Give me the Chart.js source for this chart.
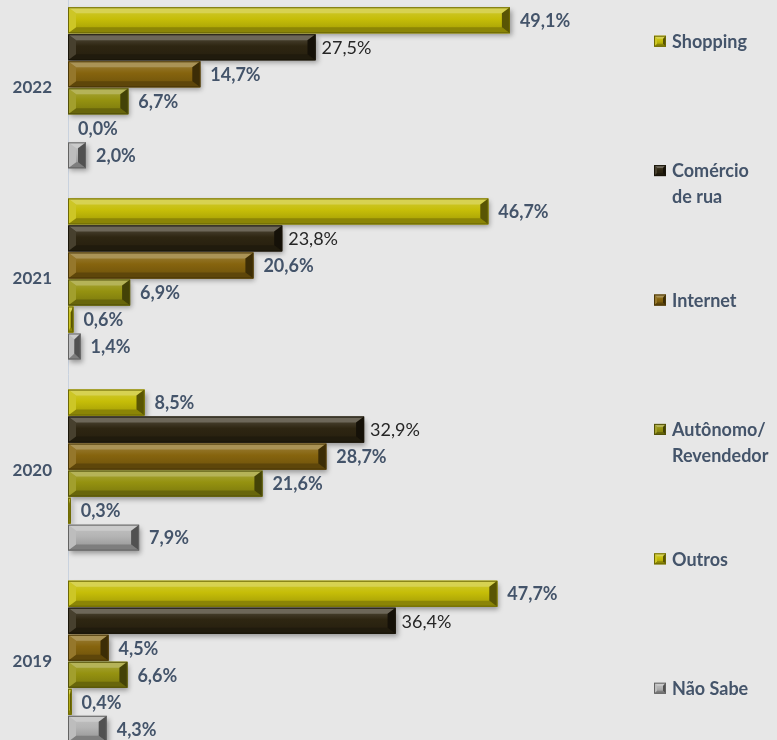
<!DOCTYPE html>
<html>
<head>
<meta charset="utf-8">
<script src="https://cdn.jsdelivr.net/npm/chart.js@4/dist/chart.umd.min.js"></script>
<style>
  html, body { margin: 0; padding: 0; background: #e7e7e7; overflow: hidden; }
  #wrap { position: absolute; left: 0; top: -34px; width: 777px; height: 817px; }
</style>
</head>
<body>
<div id="wrap"><canvas id="chart-local-compra"></canvas></div>
<script>
const years = ['2022', '2021', '2020', '2019'];
const series = ['Shopping', 'Comércio de rua', 'Internet', 'Autônomo/Revendedor', 'Outros', 'Não Sabe'];
const legendLines = [['Shopping'], ['Comércio', 'de rua'], ['Internet'], ['Autônomo/', 'Revendedor'], ['Outros'], ['Não Sabe']];
const shopping  = [49.1, 46.7, 8.5, 47.7];
const comercio  = [27.5, 23.8, 32.9, 36.4];
const internet  = [14.7, 20.6, 28.7, 4.5];
const autonomo  = [6.7, 6.9, 21.6, 6.6];
const outros    = [0.0, 0.6, 0.3, 0.4];
const naoSabe   = [2.0, 1.4, 7.9, 4.3];
const values = [shopping, comercio, internet, autonomo, outros, naoSabe];
const baseColors = ['#c6be08', '#2e2612', '#86640e', '#959210', '#c6be08', '#b4b4b4'];

const FONT = 'Lato, "Open Sans", sans-serif';
const LABEL_COLOR = '#44546a';

function shade(hex, f) {
  const n = parseInt(hex.slice(1), 16);
  let r = (n >> 16) & 255, g = (n >> 8) & 255, b = n & 255;
  const t = f < 0 ? 0 : 255, p = Math.abs(f);
  r = Math.round(r + (t - r) * p); g = Math.round(g + (t - g) * p); b = Math.round(b + (t - b) * p);
  return `rgb(${r},${g},${b})`;
}

function poly(ctx, pts, fill) {
  ctx.beginPath();
  ctx.moveTo(pts[0][0], pts[0][1]);
  for (let i = 1; i < pts.length; i++) ctx.lineTo(pts[i][0], pts[i][1]);
  ctx.closePath();
  ctx.fillStyle = fill;
  ctx.fill();
}

// beveled rectangle, the look of the bars and legend keys
function bevel(ctx, x0, y0, x1, y1, base, bx, by) {
  const w = x1 - x0, h = y1 - y0;
  if (w <= 0 || h <= 0) return;
  bx = Math.min(bx, w / 2); by = Math.min(by, h / 2);
  const g = ctx.createLinearGradient(0, y0, 0, y1);
  g.addColorStop(0, shade(base, 0.2));
  g.addColorStop(0.45, base);
  g.addColorStop(1, shade(base, -0.2));
  ctx.fillStyle = g;
  ctx.fillRect(x0, y0, w, h);
  poly(ctx, [[x0, y0], [x1, y0], [x1 - bx, y0 + by], [x0 + bx, y0 + by]], shade(base, 0.3));
  poly(ctx, [[x0, y1], [x1, y1], [x1 - bx, y1 - by], [x0 + bx, y1 - by]], shade(base, -0.3));
  poly(ctx, [[x0, y0], [x0 + bx, y0 + by], [x0 + bx, y1 - by], [x0, y1]], shade(base, 0.12));
  poly(ctx, [[x1, y0], [x1 - bx, y0 + by], [x1 - bx, y1 - by], [x1, y1]], shade(base, -0.55));
  ctx.strokeStyle = shade(base, -0.45);
  ctx.lineWidth = 1;
  ctx.strokeRect(x0 + 0.5, y0 + 0.5, w - 1, h - 1);
}

const bevelBars = {
  id: 'bevelBars',
  beforeDatasetsDraw(chart) {
    const ctx = chart.ctx;
    ctx.save();
    ctx.shadowColor = 'rgba(0,0,0,0.35)';
    ctx.shadowBlur = 5;
    ctx.shadowOffsetX = 2;
    ctx.shadowOffsetY = 3;
  },
  afterDatasetsDraw(chart) {
    const ctx = chart.ctx;
    ctx.restore();
    chart.data.datasets.forEach((ds, di) => {
      const meta = chart.getDatasetMeta(di);
      meta.data.forEach((bar, i) => {
        const p = bar.getProps(['x', 'y', 'base', 'height'], true);
        bevel(ctx, p.base, p.y - p.height / 2, p.x, p.y + p.height / 2, baseColors[di], 8, 6);
        // value label
        const normal = di === 1;
        ctx.font = (normal ? '400 ' : '700 ') + '18px ' + FONT;
        ctx.fillStyle = normal ? '#262626' : LABEL_COLOR;
        ctx.textAlign = 'left';
        ctx.textBaseline = 'middle';
        const txt = ds.data[i].toFixed(1).replace('.', ',') + '%';
        ctx.fillText(txt, p.x + (normal ? 6 : 10), p.y + 1);
      });
    });
  }
};

const sideLegend = {
  id: 'sideLegend',
  afterDraw(chart) {
    const ctx = chart.ctx;
    const left = chart.chartArea.right + 46;
    const top = chart.chartArea.top + 49, step = 129.4, lineH = 26;
    ctx.save();
    ctx.font = '700 18px ' + FONT;
    ctx.textAlign = 'left';
    ctx.textBaseline = 'middle';
    legendLines.forEach((lines, i) => {
      const y = top + step * i;
      bevel(ctx, left, y - 5.5, left + 12, y + 5.5, baseColors[i], 3, 3);
      ctx.fillStyle = LABEL_COLOR;
      lines.forEach((t, k) => ctx.fillText(t, left + 18, y + k * lineH + 1));
    });
    ctx.restore();
  }
};

const data = {
  labels: years,
  datasets: series.map((name, i) => ({
    label: name,
    data: values[i],
    backgroundColor: baseColors[i],
    borderWidth: 0,
    categoryPercentage: 0.848,
    barPercentage: 0.96
  }))
};

new Chart(document.getElementById('chart-local-compra'), {
  type: 'bar',
  data: data,
  options: {
    indexAxis: 'y',
    responsive: true,
    maintainAspectRatio: false,
    animation: false,
    layout: { padding: { left: 0, right: 169, top: 0, bottom: 0 } },
    plugins: {
      legend: { display: false },
      tooltip: { enabled: false },
      title: { display: false }
    },
    scales: {
      x: { display: false, min: 0, max: 60 },
      y: {
        afterFit(scale) { scale.width = 68; },
        grid: { display: false, drawTicks: false },
        border: { display: true, color: '#c9d2de', width: 1 },
        ticks: {
          padding: 16,
          color: LABEL_COLOR,
          font: { family: FONT, size: 17, weight: '700' }
        }
      }
    }
  },
  plugins: [bevelBars, sideLegend]
});
</script>
</body>
</html>
